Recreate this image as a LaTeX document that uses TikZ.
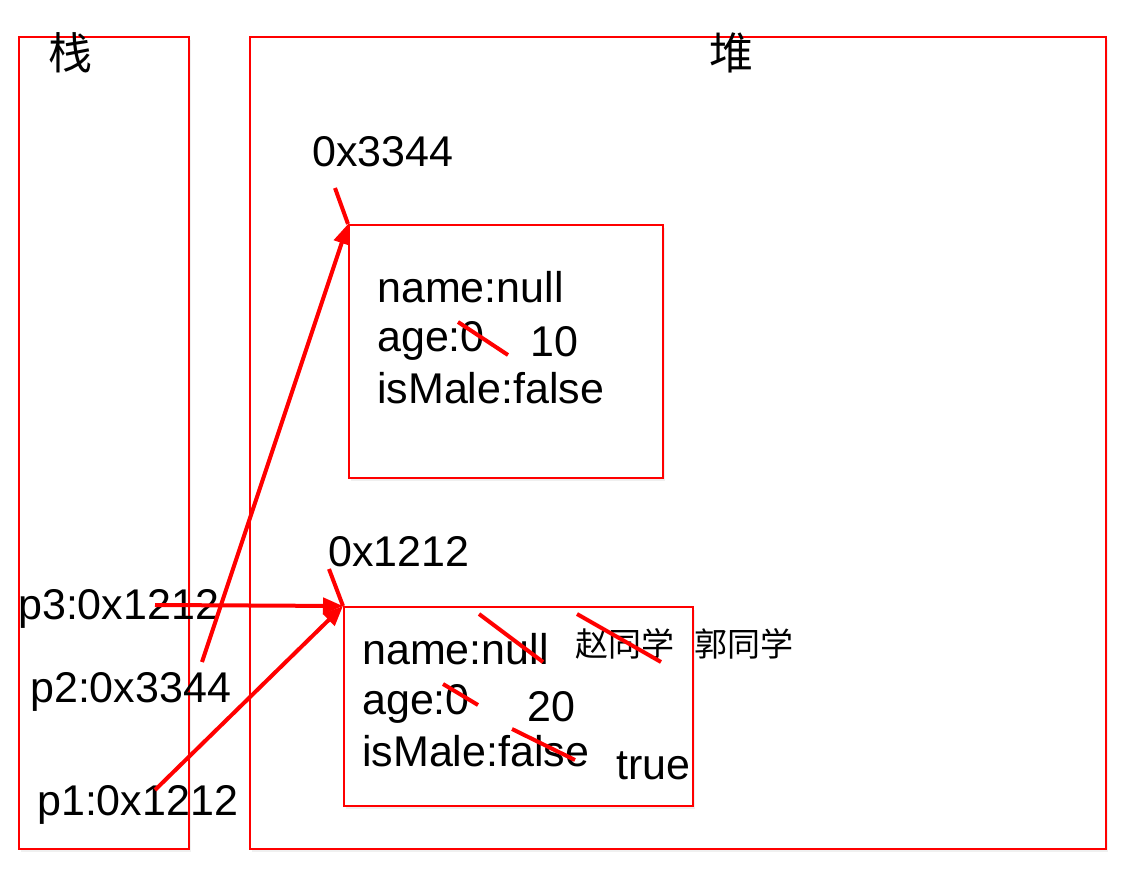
\documentclass[tikz,border=0pt]{standalone}
\usepackage{fontspec}
\setmainfont{Liberation Sans}
\newfontfamily\cjk{Noto Sans CJK SC}
\usetikzlibrary{arrows.meta,shadows}
\tikzset{
  area/.style={draw=red, line width=1.6pt, fill=white, inner sep=0pt,
    drop shadow={shadow xshift=2pt, shadow yshift=-3pt, opacity=0.12}},
  txt/.style={anchor=base west, inner sep=0pt, font=\fontsize{43}{50}\selectfont},
  cjktxt/.style={anchor=base west, inner sep=0pt, font=\cjk\fontsize{33}{40}\selectfont},
  ptr/.style={red, line width=4pt, -{Triangle[length=20pt,width=16pt]}},
  tick/.style={red, line width=4pt},
  strike/.style={red, line width=4pt}
}
\begin{document}
\begin{tikzpicture}[x=1pt,y=-1pt]
    \useasboundingbox (0,0) rectangle (1136,869);
    % stack and heap areas
    \node[area, anchor=north west, minimum width=170pt, minimum height=812pt] (stack) at (18,36) {};
    \node[area, anchor=north west, minimum width=856pt, minimum height=812pt] (heap) at (249,36) {};
    \node[font=\cjk\fontsize{44}{50}\selectfont] (stacktitle) at (70,53) {栈};
    \node[font=\cjk\fontsize{44}{50}\selectfont] (heaptitle) at (731,53) {堆};
    % objects in the heap
    \node[area, anchor=north west, minimum width=314pt, minimum height=253pt] (obj1) at (348,224) {};
    \node[area, anchor=north west, minimum width=349pt, minimum height=199pt] (obj2) at (343,606) {};
    \node[txt] (addr1) at (312,167) {0x3344};
    \node[txt] (addr2) at (328,566) {0x1212};
    % fields
    \foreach \n/\x/\y/\t in {f1a/377/302/name:null, f1b/377/352/age:0, f1c/377/403/isMale:false,
                             f2a/362/664/name:null, f2b/362/714/age:0, f2c/362/766/isMale:false}
    {
        \node[txt] (\n) at (\x,\y) {\t};
    }
    \node[txt] (v1) at (530,356) {10};
    \node[txt] (v2) at (527,721) {20};
    \node[txt] (v3) at (616,779) {true};
    \node[cjktxt] (n1) at (575,656) {赵同学};
    \node[cjktxt] (n2) at (694,656) {郭同学};
    % crossed out values
    \draw[strike] (458,322) -- (508,355);
    \draw[strike] (479,614) -- (543,662);
    \draw[strike] (577,614) -- (661,662);
    \draw[strike] (443,684) -- (478,705);
    \draw[strike] (512,729) -- (575,760);
    % references on the stack
    \foreach \n/\x/\y/\t in {p3/18/619/p3:0x1212, p2/30/702/p2:0x3344, p1/37/815/p1:0x1212}
    {
        \node[txt] (\n) at (\x,\y) {\t};
    }
    \coordinate (s3) at (155,605);
    \coordinate (s2) at (202,662);
    \coordinate (s1) at (155,790);
    \coordinate (t1) at (335,188);
    \coordinate (t2) at (329,569);
    \draw[tick] (t1) -- (obj1.north west);
    \draw[tick] (t2) -- (obj2.north west);
    \draw[ptr] (s2) -- (obj1.north west);
    \draw[ptr] (s3) -- (obj2.north west);
    \draw[ptr] (s1) -- (obj2.north west);
\end{tikzpicture}
\end{document}
